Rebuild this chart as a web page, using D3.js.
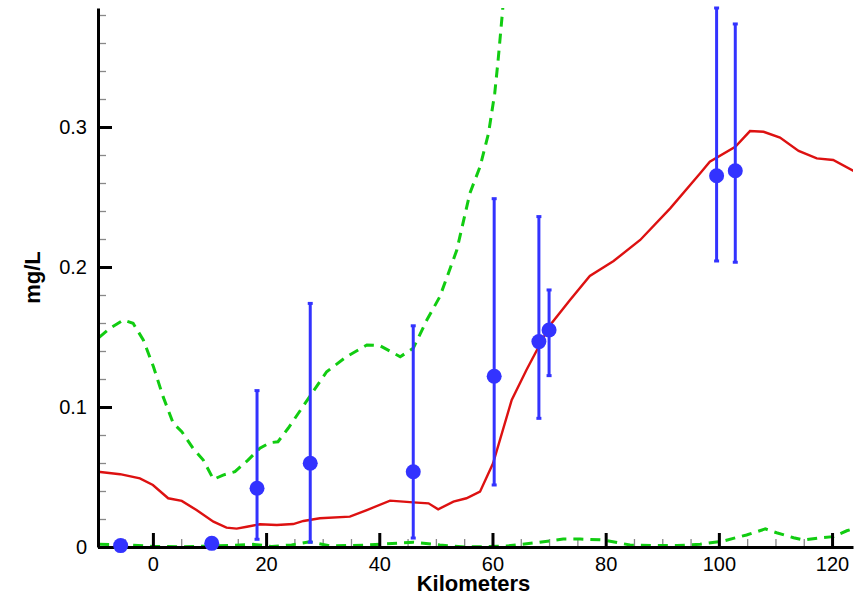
<!DOCTYPE html>
<html>
<head>
<meta charset="utf-8">
<script src="https://cdn.jsdelivr.net/npm/d3@7"></script>
<style>
  body { margin: 0; background: #fff; }
  svg { display: block; font-family: "Liberation Sans", Arial, sans-serif; }
</style>
</head>
<body>
<svg id="chart" width="865" height="597"></svg>
<script>
// model line (red)
const modelKm = [-9.7, -5.8, -2.3, 0, 2.7, 5.1, 7.7, 10.7, 13.0, 14.8, 16.6, 18.9, 21.9, 24.8, 26.6, 29.5, 34.8, 37.8, 41.9, 46.0, 48.7, 50.4, 53.1, 55.4, 57.8, 60.1, 63.4, 66.0, 70.2, 73.7, 77.2, 81.4, 86.1, 91.4, 96.7, 98.4, 102.9, 105.5, 107.9, 110.8, 114.1, 117.3, 120.2, 123.8];
const modelVal = [0.0538, 0.052, 0.049, 0.0443, 0.0348, 0.0329, 0.0264, 0.0181, 0.0138, 0.0131, 0.0145, 0.0162, 0.0157, 0.0164, 0.0186, 0.0205, 0.0217, 0.0264, 0.0331, 0.0319, 0.0312, 0.0269, 0.0324, 0.0348, 0.0395, 0.0598, 0.105, 0.1264, 0.1586, 0.1764, 0.1936, 0.2043, 0.2193, 0.2419, 0.2669, 0.2752, 0.2859, 0.2971, 0.2966, 0.2924, 0.2829, 0.2776, 0.2764, 0.2686];

// upper bound (green dashed)
const upperKm = [-9.5, -7.6, -5.2, -3.5, -1.7, 0.1, 1.8, 3.6, 5.1, 7.1, 8.9, 10.7, 12.4, 14.5, 16.8, 18.9, 20.7, 22.1, 23.9, 27.7, 30.7, 34.2, 37.8, 40.1, 43.7, 46.0, 48.4, 50.7, 53.7, 56.0, 57.8, 59.3, 60.4, 61.0, 61.8, 62.3];
const upperVal = [0.1498, 0.1562, 0.1621, 0.1598, 0.1479, 0.1288, 0.1074, 0.0883, 0.0824, 0.0705, 0.0621, 0.0483, 0.0514, 0.0538, 0.0621, 0.0705, 0.0745, 0.0752, 0.0848, 0.1074, 0.1252, 0.1359, 0.1443, 0.1438, 0.1359, 0.1419, 0.1621, 0.1788, 0.2121, 0.2526, 0.2716, 0.2955, 0.3241, 0.3479, 0.3836, 0.42];

// lower bound (green dashed)
const lowerKm = [-9.5, -4.1, 0, 5, 10.4, 15.4, 17.7, 21.0, 24.5, 27.7, 31.3, 37.8, 46.0, 50.7, 55.4, 62.5, 67.8, 72.5, 75.5, 79.6, 84.3, 88.4, 92.6, 96.7, 100.8, 104.9, 108.2, 110.2, 113.2, 114.9, 117.9, 120.2, 122.6, 123.7];
const lowerVal = [0.0019, 0.0014, 0.0004, 0.0002, 0.0007, 0.0014, 0.0019, 0.0004, 0.0015, 0.0038, 0.0007, 0.0014, 0.0034, 0.0014, 0.0, 0.0007, 0.0031, 0.0057, 0.0057, 0.005, 0.0014, 0.001, 0.001, 0.0019, 0.0043, 0.0086, 0.0129, 0.0102, 0.0066, 0.005, 0.0066, 0.0074, 0.0116, 0.013];

// observations with error bars
const obsKm = [-5.7, 10.4, 18.4, 27.8, 46.0, 60.3, 68.2, 70.0, 99.6, 102.9];
const obsVal = [0.001, 0.0026, 0.042, 0.0598, 0.0538, 0.122, 0.1467, 0.155, 0.2652, 0.2688];
const obsLow = [null, null, 0.0055, 0.0034, 0.0064, 0.0443, 0.0919, 0.1224, 0.2043, 0.2034];
const obsHigh = [null, null, 0.1117, 0.174, 0.158, 0.2488, 0.236, 0.1836, 0.385, 0.3736];

const xMajor = [0, 20, 40, 60, 80, 100, 120];
const yMajor = [0, 0.1, 0.2, 0.3];

const width = 865, height = 597;
const margin = { top: 8, right: 12, bottom: 50, left: 98 };

const svg = d3.select("#chart");

const x = d3.scaleLinear().domain([-9.7, 123.7]).range([margin.left, width - margin.right]);
const y = d3.scaleLinear().domain([0, 0.385]).range([height - margin.bottom, margin.top]);

svg.append("defs").append("clipPath").attr("id", "plot-clip")
  .append("rect")
  .attr("x", margin.left).attr("y", margin.top)
  .attr("width", width - margin.left - margin.right)
  .attr("height", height - margin.top - margin.bottom + 4);

// minor ticks
const xMinor = d3.range(-5, 124, 5).filter((d) => d % 20 !== 0);
const yMinor = d3.range(0.02, 0.385, 0.02).filter((d) => Math.abs(d * 10 - Math.round(d * 10)) > 1e-6);

svg.append("g")
  .attr("transform", `translate(0,${y(0)})`)
  .call(d3.axisBottom(x).tickValues(xMinor).tickSize(-8).tickFormat(""))
  .call((g) => g.select(".domain").remove())
  .call((g) => g.selectAll(".tick line").attr("stroke", "#888").attr("stroke-width", 1.3));

svg.append("g")
  .attr("transform", `translate(${x.range()[0]},0)`)
  .call(d3.axisLeft(y).tickValues(yMinor).tickSize(-8).tickFormat(""))
  .call((g) => g.select(".domain").remove())
  .call((g) => g.selectAll(".tick line").attr("stroke", "#888").attr("stroke-width", 1.3));

// lines
const line = d3.line().x((d) => x(d[0])).y((d) => y(d[1]));
const plot = svg.append("g").attr("clip-path", "url(#plot-clip)");

plot.append("path")
  .datum(d3.zip(upperKm, upperVal))
  .attr("d", line)
  .attr("fill", "none")
  .attr("stroke", "#11cc11")
  .attr("stroke-width", 3)
  .attr("stroke-dasharray", "10,7");

plot.append("path")
  .datum(d3.zip(lowerKm, lowerVal))
  .attr("d", line)
  .attr("fill", "none")
  .attr("stroke", "#11cc11")
  .attr("stroke-width", 3)
  .attr("stroke-dasharray", "10,7");

plot.append("path")
  .datum(d3.zip(modelKm, modelVal))
  .attr("d", line)
  .attr("fill", "none")
  .attr("stroke", "#dd1111")
  .attr("stroke-width", 2.4);

// major axes
svg.append("g")
  .attr("class", "x-axis")
  .attr("transform", `translate(0,${y(0)})`)
  .call(d3.axisBottom(x).tickValues(xMajor).tickSizeInner(-14).tickSizeOuter(0).tickPadding(10).tickFormat(d3.format("d")))
  .call((g) => g.select(".domain").attr("stroke-width", 3))
  .call((g) => g.selectAll(".tick line").attr("stroke-width", 3))
  .call((g) => g.selectAll("text").attr("font-size", 20).attr("fill", "#000"));

svg.append("g")
  .attr("class", "y-axis")
  .attr("transform", `translate(${x.range()[0]},0)`)
  .call(d3.axisLeft(y).tickValues(yMajor).tickSizeInner(-14).tickSizeOuter(0).tickPadding(11).tickFormat(d3.format("~g")))
  .call((g) => g.select(".domain").attr("stroke-width", 3))
  .call((g) => g.selectAll(".tick line").attr("stroke-width", 3))
  .call((g) => g.selectAll("text").attr("font-size", 20).attr("fill", "#000"));

// observations
const obs = d3.range(obsKm.length).map((i) => ({
  km: obsKm[i], val: obsVal[i], low: obsLow[i], high: obsHigh[i],
}));
const blue = "#3333ff";

const bars = svg.append("g").selectAll("g")
  .data(obs.filter((d) => d.low !== null))
  .join("g");

bars.append("line")
  .attr("x1", (d) => x(d.km)).attr("x2", (d) => x(d.km))
  .attr("y1", (d) => y(d.low)).attr("y2", (d) => y(d.high))
  .attr("stroke", blue).attr("stroke-width", 3);

bars.selectAll(".cap")
  .data((d) => [[d.km, d.low], [d.km, d.high]])
  .join("line")
  .attr("class", "cap")
  .attr("x1", (d) => x(d[0]) - 2.5).attr("x2", (d) => x(d[0]) + 2.5)
  .attr("y1", (d) => y(d[1])).attr("y2", (d) => y(d[1]))
  .attr("stroke", blue).attr("stroke-width", 3);

svg.append("g").selectAll("circle")
  .data(obs)
  .join("circle")
  .attr("cx", (d) => x(d.km))
  .attr("cy", (d) => y(d.val))
  .attr("r", 7.5)
  .attr("fill", blue);

// axis titles
svg.append("text")
  .attr("x", (x.range()[0] + x.range()[1]) / 2 - 2)
  .attr("y", 591)
  .attr("text-anchor", "middle")
  .attr("font-size", 22)
  .attr("font-weight", "bold")
  .text("Kilometers");

svg.append("text")
  .attr("transform", `translate(40,${(y.range()[0] + y.range()[1]) / 2}) rotate(-90)`)
  .attr("text-anchor", "middle")
  .attr("font-size", 22)
  .attr("font-weight", "bold")
  .text("mg/L");
</script>
</body>
</html>
